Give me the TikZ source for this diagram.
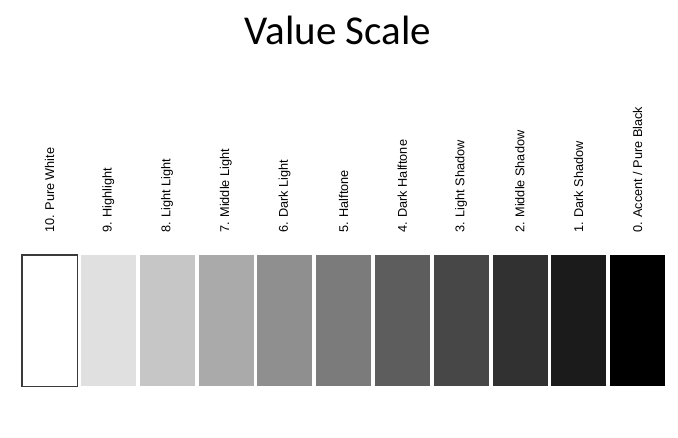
\documentclass[tikz,border=0pt]{standalone}
\usepackage{fontspec}
\setmainfont{Liberation Sans}
\newfontfamily\titlefont{Carlito}
\definecolor{v10}{HTML}{FFFFFF}
\definecolor{v9}{HTML}{E0E0E0}
\definecolor{v8}{HTML}{C6C6C6}
\definecolor{v7}{HTML}{AAAAAA}
\definecolor{v6}{HTML}{8F8F8F}
\definecolor{v5}{HTML}{7B7B7B}
\definecolor{v4}{HTML}{5D5D5D}
\definecolor{v3}{HTML}{474747}
\definecolor{v2}{HTML}{313131}
\definecolor{v1}{HTML}{1B1B1B}
\definecolor{v0}{HTML}{000000}
\definecolor{edge}{HTML}{3A3A3A}
\begin{document}
\begin{tikzpicture}[x=1pt,y=-1pt,
  swatch/.style={draw=none,minimum width=55pt,minimum height=131pt,inner sep=0pt,anchor=north west},
  lbl/.style={rotate=90,anchor=west,inner sep=0pt,font=\fontsize{12.7}{14}\selectfont}]
\useasboundingbox[fill=white] (0,0) rectangle (678,437);
\node[font=\titlefont\fontsize{41}{46}\selectfont,anchor=base] (title) at (338,44.5) {Value Scale};
\foreach \i/\c/\t [count=\k from 0] in {
  10/v10/{10. Pure White},
  9/v9/{9. Highlight},
  8/v8/{8. Light Light},
  7/v7/{7. Middle Light},
  6/v6/{6. Dark Light},
  5/v5/{5. Halftone},
  4/v4/{4. Dark Halftone},
  3/v3/{3. Light Shadow},
  2/v2/{2. Middle Shadow},
  1/v1/{1. Dark Shadow},
  0/v0/{0. Accent / Pure Black}}{
  \node[swatch,fill=\c] (s\i) at ({22+58.8*\k},255) {};
  \node[lbl] (l\i) at ({22+58.8*\k+27.5},233) {\t};
}
\draw[edge,line width=1.2pt] (s10.north west) rectangle (s10.south east);
\end{tikzpicture}
\end{document}
